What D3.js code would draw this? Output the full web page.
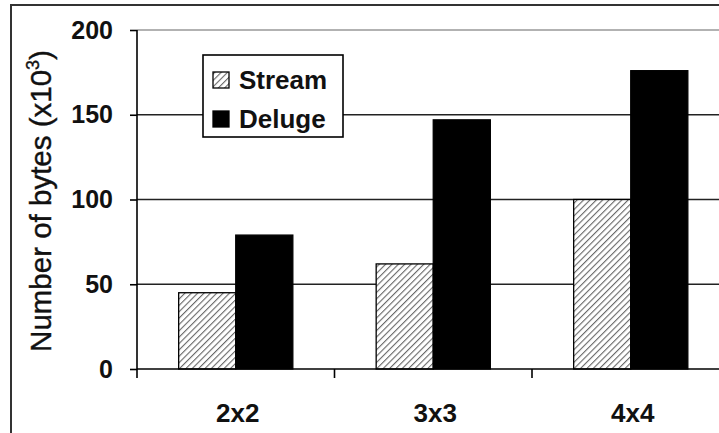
<!DOCTYPE html>
<html>
<head>
<meta charset="utf-8">
<script src="https://cdn.jsdelivr.net/npm/d3@7"></script>
<style>
  html, body { margin: 0; padding: 0; background: #fff; }
  svg { display: block; font-family: "Liberation Sans", Arial, sans-serif; }
</style>
</head>
<body>
<svg id="chart" width="719" height="433"></svg>
<script>
// ---- data ----
const categories = ["2x2", "3x3", "4x4"];
const seriesNames = ["Stream", "Deluge"];
const streamValues = [45, 62, 100];
const delugeValues = [79, 147, 176];
const yTicks = [0, 50, 100, 150, 200];
const yLabel = "Number of bytes (x10";
const yLabelSup = "3";

const svg = d3.select("#chart");
const W = 719, H = 433;

// pattern for hatched bars
const defs = svg.append("defs");
const pat = defs.append("pattern")
  .attr("id", "hatch").attr("patternUnits", "userSpaceOnUse")
  .attr("width", 4.5).attr("height", 4.5)
  .attr("patternTransform", "rotate(45)");
pat.append("rect").attr("width", 4.5).attr("height", 4.5).attr("fill", "#fff");
pat.append("line").attr("x1", 0).attr("y1", 0).attr("x2", 0).attr("y2", 4.5)
  .attr("stroke", "#666").attr("stroke-width", 2.2);

// outer frame (left and top edges)
svg.append("path").attr("d", `M11,${H} L11,5 L${W},5`)
  .attr("fill", "none").attr("stroke", "#333").attr("stroke-width", 2);

const plotLeft = 137, plotTop = 30, plotBottom = 369;
const catStep = 197.5;
const x0 = d3.scaleBand().domain(categories).range([plotLeft, plotLeft + catStep * categories.length]).padding(0);
const x1 = d3.scaleBand().domain(seriesNames).range([0, x0.bandwidth()]).paddingInner(0).paddingOuter(0.73);
const y = d3.scaleLinear().domain([0, 200]).range([plotBottom, plotTop]);

// gridlines
svg.append("g").selectAll("line").data(yTicks.filter(d => d > 0)).join("line")
  .attr("x1", plotLeft).attr("x2", W)
  .attr("y1", d => y(d)).attr("y2", d => y(d))
  .attr("stroke", d => d === 200 ? "#999" : "#222")
  .attr("stroke-width", 1.6);

// bars
const rows = categories.map((c, i) => ({ cat: c, vals: [streamValues[i], delugeValues[i]] }));
const gBars = svg.append("g");
rows.forEach(r => {
  r.vals.forEach((v, j) => {
    const name = seriesNames[j];
    gBars.append("rect")
      .attr("x", x0(r.cat) + x1(name))
      .attr("y", y(v))
      .attr("width", x1.bandwidth())
      .attr("height", y(0) - y(v))
      .attr("fill", j === 0 ? "url(#hatch)" : "#000")
      .attr("stroke", "#000").attr("stroke-width", 1.3);
  });
});

// y axis
const yAxis = d3.axisLeft(y).tickValues(yTicks).tickSize(7).tickPadding(17).tickFormat(d3.format("d"));
const ya = svg.append("g").attr("transform", `translate(${plotLeft},0)`).call(yAxis);
ya.select(".domain").remove();
ya.selectAll(".tick line").attr("stroke", "#000").attr("stroke-width", 1.6);
ya.selectAll(".tick text").attr("font-size", 25).attr("font-weight", "bold")
  .attr("fill", "#111").attr("font-family", "'Liberation Sans', Arial, sans-serif");
svg.append("line").attr("x1", plotLeft).attr("x2", plotLeft).attr("y1", plotTop).attr("y2", plotBottom + 9)
  .attr("stroke", "#000").attr("stroke-width", 1.6);

// x axis
svg.append("line").attr("x1", plotLeft).attr("x2", W).attr("y1", plotBottom).attr("y2", plotBottom)
  .attr("stroke", "#000").attr("stroke-width", 1.6);
svg.append("g").selectAll("line").data(categories.slice(1)).join("line")
  .attr("x1", d => x0(d)).attr("x2", d => x0(d))
  .attr("y1", plotBottom).attr("y2", plotBottom + 9)
  .attr("stroke", "#000").attr("stroke-width", 1.6);
svg.append("g").selectAll("text").data(categories).join("text")
  .attr("x", d => x0(d) + x0.bandwidth() / 2 + 2)
  .attr("y", 422)
  .attr("text-anchor", "middle")
  .attr("font-size", 26).attr("font-weight", "bold").attr("fill", "#111")
  .text(d => d);

// y label
const yl = svg.append("text")
  .attr("transform", "translate(51,201) rotate(-90)")
  .attr("text-anchor", "middle")
  .attr("font-size", 29.5).attr("fill", "#111")
  .attr("stroke", "#111").attr("stroke-width", 0.4);
yl.append("tspan").text(yLabel);
yl.append("tspan").attr("font-size", 18).attr("dy", -12).text(yLabelSup);
yl.append("tspan").attr("dy", 12).text(")");

// legend
const lg = svg.append("g");
lg.append("rect").attr("x", 203).attr("y", 55).attr("width", 140).attr("height", 82)
  .attr("fill", "#fff").attr("stroke", "#000").attr("stroke-width", 1.6);
seriesNames.forEach((name, i) => {
  const yy = 72 + i * 39;
  lg.append("rect").attr("x", 213).attr("y", yy).attr("width", 16).attr("height", 16)
    .attr("fill", i === 0 ? "url(#hatch)" : "#000").attr("stroke", "#000").attr("stroke-width", 1.3);
  lg.append("text").attr("x", 239).attr("y", yy + 16.5)
    .attr("font-size", 26).attr("font-weight", "bold").attr("fill", "#111")
    .text(name);
});
</script>
</body>
</html>
